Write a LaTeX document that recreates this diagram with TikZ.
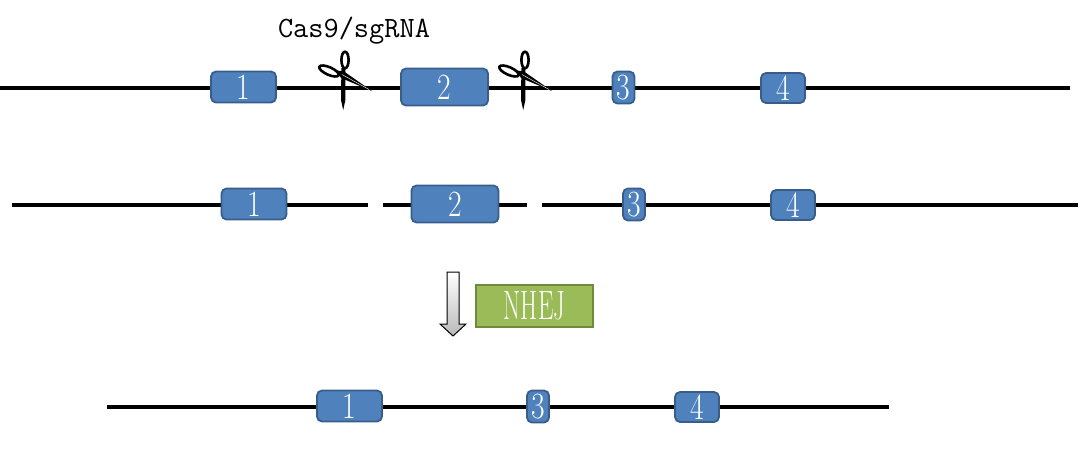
\documentclass[tikz,border=0pt]{standalone}
\usetikzlibrary{positioning}
\definecolor{exfill}{HTML}{4F81BD}
\definecolor{exdraw}{HTML}{385D8A}
\definecolor{nfill}{HTML}{9BBB59}
\definecolor{ndraw}{HTML}{6E8A3C}
\tikzset{
  x=1pt,y=-1pt,
  dna/.style={line width=3.8pt,black},
  exon/.style={draw=exdraw,fill=exfill,line width=1.8pt,rounded corners=5pt,inner sep=0pt,
    text=white,font=\fontsize{37}{37}\selectfont},
  nhej/.style={draw=ndraw,fill=nfill,line width=2pt,inner sep=0pt,text=white,
    font=\fontsize{41}{41}\selectfont},
  scissors/.pic={
    \draw[line width=2.6pt] (2,-16) ellipse [x radius=3.6,y radius=8.3];
    \fill (-1.6,-8) -- (2.4,-8) -- (2.4,24) -- (0.2,34) -- (-2,24) -- cycle;
    \draw[line width=2.6pt,rotate around={-24:(-14,-5)}] (-14,-5) ellipse [x radius=10.5,y radius=3.8];
    \fill (-6,-5.5) -- (1,-4.5) -- (29,15) -- (-2,2) -- cycle;
    \draw[white,line width=0.4pt] (-1,-1.5) -- (26,13.5);
  }
}
\newcommand{\ex}[1]{\scalebox{0.8}[1]{#1}}
\begin{document}
\begin{tikzpicture}
\useasboundingbox (0,0) rectangle (1080,448);
% labels
\node[font=\ttfamily\fontsize{29.5}{29.5}\selectfont,anchor=center] (cas) at (354,31) {Cas9/sgRNA};
% row 1
\coordinate (r1a) at (0,88);
\coordinate (r1b) at (1070,88);
\draw[dna] (r1a) -- (r1b);
\node[exon,minimum width=65pt,minimum height=31pt] (a1) at (243.5,87) {\ex{1}};
\node[exon,minimum width=87pt,minimum height=37pt] (a2) at (444.5,87) {\ex{2}};
\node[exon,minimum width=22pt,minimum height=32pt] (a3) at (623.5,87.5) {\ex{3}};
\node[exon,minimum width=44pt,minimum height=30pt] (a4) at (783,88) {\ex{4}};
\pic at (343,76) {scissors};
\pic at (523,76) {scissors};
% row 2
\coordinate (s1a) at (12,205);
\coordinate (s1b) at (368,205);
\coordinate (s2a) at (383,205);
\coordinate (s2b) at (527,205);
\coordinate (s3a) at (542,205);
\coordinate (s3b) at (1078,205);
\draw[dna] (s1a) -- (s1b);
\draw[dna] (s2a) -- (s2b);
\draw[dna] (s3a) -- (s3b);
\node[exon,minimum width=65pt,minimum height=31pt] (b1) at (254,204) {\ex{1}};
\node[exon,minimum width=87pt,minimum height=37pt] (b2) at (455,204) {\ex{2}};
\node[exon,minimum width=22pt,minimum height=32pt] (b3) at (634,204.5) {\ex{3}};
\node[exon,minimum width=44pt,minimum height=30pt] (b4) at (793,205) {\ex{4}};
% arrow and NHEJ
\shade[top color=white,bottom color=gray!55,draw=black,line width=1pt]
  (447,272) -- (459,272) -- (459,324) -- (466,324) -- (453,336) -- (440,324) -- (447,324) -- cycle;
\node[nhej,minimum width=117pt,minimum height=42pt] (nh) at (534.5,306) {\scalebox{0.6}[1]{NHEJ}};
% row 3
\coordinate (t1a) at (107,407);
\coordinate (t1b) at (889,407);
\draw[dna] (t1a) -- (t1b);
\node[exon,minimum width=65pt,minimum height=31pt] (c1) at (349.5,406) {\ex{1}};
\node[exon,minimum width=22pt,minimum height=32pt] (c3) at (538,406.5) {\ex{3}};
\node[exon,minimum width=44pt,minimum height=30pt] (c4) at (697,407) {\ex{4}};
\end{tikzpicture}
\end{document}
